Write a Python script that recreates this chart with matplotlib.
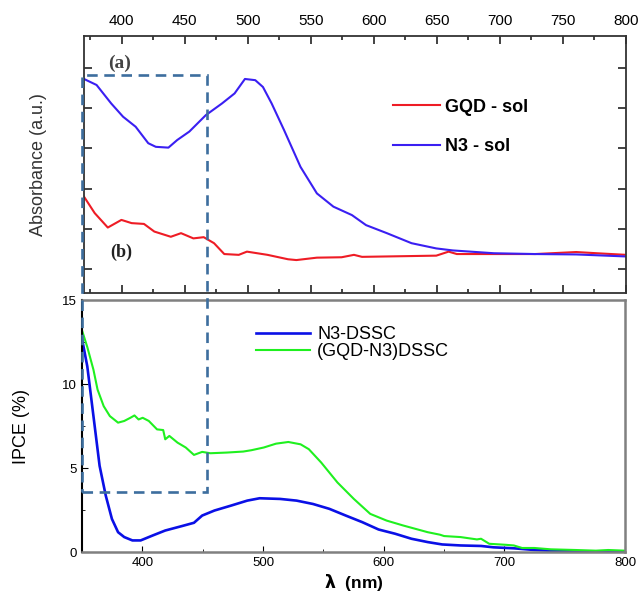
import matplotlib
matplotlib.use('Agg')
import matplotlib.pyplot as plt
from matplotlib.patches import Rectangle
from matplotlib.ticker import MultipleLocator

plt.rcParams['font.family'] = ['Liberation Sans', 'DejaVu Sans']

# (a) absorbance, arbitrary units
wl_n3_sol = [370, 380, 391.6, 401, 411, 421, 427, 437, 444, 453.6, 466.7, 479.5, 489.5,
             497.7, 505.9, 512, 518.9, 528.7, 541.8, 554.8, 567.9, 582.6, 593.8, 610.3,
             629.9, 649.5, 662.6, 695.2, 727.9, 760.5, 800]
abs_n3_sol = [0.573, 0.558, 0.512, 0.479, 0.454, 0.413, 0.404, 0.402, 0.421, 0.442, 0.483,
              0.512, 0.537, 0.573, 0.570, 0.553, 0.512, 0.446, 0.354, 0.288, 0.255, 0.234,
              0.209, 0.189, 0.164, 0.151, 0.146, 0.139, 0.137, 0.136, 0.131]

wl_gqd_sol = [370, 378.5, 388.9, 399.7, 407.8, 417.6, 425.8, 438.9, 447, 456.8, 465, 473.2,
              481.3, 492.8, 499.3, 515.6, 531.9, 538.5, 554.8, 574.4, 584.2, 590.6, 610.3,
              629.9, 649.5, 659.3, 665.8, 695.2, 727.9, 760.5, 776.9, 800]
abs_gqd_sol = [0.280, 0.239, 0.203, 0.222, 0.214, 0.212, 0.193, 0.180, 0.189, 0.176, 0.179,
               0.164, 0.137, 0.135, 0.143, 0.135, 0.124, 0.122, 0.128, 0.129, 0.135, 0.130,
               0.131, 0.132, 0.133, 0.143, 0.137, 0.137, 0.137, 0.142, 0.139, 0.135]

# (b) IPCE %
wl_n3_dssc = [350, 354.4, 359.5, 364.6, 369.7, 374.8, 379.9, 385, 391.8, 398.6, 408.8, 419,
              432.6, 442.8, 449.6, 459.8, 473.4, 487, 497.2, 514.2, 527.8, 541.4, 555, 568.6,
              582.2, 595.8, 609.4, 623, 636.6, 648.5, 663.8, 680.8, 691, 708, 725, 742, 759, 800]
ipce_n3_dssc = [12.7, 11.05, 8.09, 5.13, 3.36, 1.97, 1.18, 0.89, 0.69, 0.69, 0.99, 1.28,
                1.54, 1.74, 2.17, 2.47, 2.76, 3.06, 3.20, 3.16, 3.06, 2.86, 2.57, 2.17,
                1.78, 1.34, 1.09, 0.79, 0.59, 0.45, 0.39, 0.36, 0.28, 0.22, 0.12, 0.06, 0.04, 0.02]

wl_gqd_dssc = [350, 354.4, 359.5, 362.9, 368, 373.1, 379.9, 385, 390.1, 393.5, 396.9, 400.3,
               405.4, 412.2, 417.3, 419, 422.4, 429.2, 436, 442.8, 449.6, 456.4, 470, 483.6,
               490.4, 500.6, 510.8, 521, 531.2, 538, 548.2, 561.7, 575.3, 588.9, 602.5, 616.1,
               626.3, 636.5, 646.7, 650.1, 663.7, 677.3, 680.7, 687.5, 701.1, 707.9, 714.7,
               724.9, 738.5, 758.9, 775.9, 786.1, 800]
ipce_gqd_dssc = [13.2, 12.2, 10.85, 9.67, 8.68, 8.09, 7.70, 7.80, 7.99, 8.13, 7.89, 7.99,
                 7.80, 7.30, 7.26, 6.71, 6.91, 6.51, 6.22, 5.78, 5.96, 5.88, 5.92, 5.98,
                 6.06, 6.22, 6.45, 6.55, 6.41, 6.12, 5.33, 4.14, 3.16, 2.27, 1.87, 1.58,
                 1.38, 1.18, 1.03, 0.95, 0.89, 0.75, 0.79, 0.49, 0.43, 0.39, 0.24,
                 0.24, 0.16, 0.12, 0.08, 0.12, 0.08]

fig = plt.figure(figsize=(6.42, 5.96), dpi=100)

# top panel (a)
ax1 = fig.add_axes([0.1308, 0.5084, 0.8442, 0.4312])
ax1.plot(wl_gqd_sol, abs_gqd_sol, color='#ee1c25', lw=1.5, label='GQD - sol')
ax1.plot(wl_n3_sol, abs_n3_sol, color='#3a1ff2', lw=1.5, label='N3 - sol')
ax1.set_xlim(370, 800)
ax1.set_ylim(0.04, 0.68)
ax1.xaxis.set_major_locator(MultipleLocator(50))
ax1.xaxis.set_minor_locator(MultipleLocator(25))
ax1.yaxis.set_major_locator(MultipleLocator(0.1))
ax1.tick_params(axis='both', which='both', direction='in', top=True, bottom=True,
                left=True, right=True, labelbottom=False, labeltop=True, labelleft=False,
                color='#222222', width=1.2)
ax1.tick_params(which='major', length=6, labelsize=11, pad=6)
ax1.tick_params(which='minor', length=3)
for s in ax1.spines.values():
    s.set_linewidth(1.3)
    s.set_color('#333333')
ax1.set_ylabel('Absorbance (a.u.)', fontsize=13, color='#333333')
ax1.yaxis.set_label_coords(-0.068, 0.5)
leg1 = ax1.legend(loc='upper left', bbox_to_anchor=(0.54, 0.82), frameon=False,
                  prop={'weight': 'bold', 'size': 13}, handlelength=2.6,
                  handletextpad=0.3, labelspacing=1.25)
ax1.text(0.066, 0.895, '(a)', transform=ax1.transAxes, ha='center', va='center',
         family='Liberation Serif', fontweight='bold', fontsize=14, color='#444444')
ax1.text(0.068, 0.16, '(b)', transform=ax1.transAxes, ha='center', va='center',
         family='Liberation Serif', fontweight='bold', fontsize=13, color='#222222')

# bottom panel (b)
ax2 = fig.add_axes([0.1277, 0.0738, 0.8458, 0.4228])
ax2.plot(wl_n3_dssc, ipce_n3_dssc, color='#0a10e6', lw=1.9, label='N3-DSSC')
ax2.plot(wl_gqd_dssc, ipce_gqd_dssc, color='#1ff01f', lw=1.5, label='(GQD-N3)DSSC')
ax2.set_xlim(350, 800)
ax2.set_ylim(0, 15)
ax2.set_xticks([400, 500, 600, 700, 800])
ax2.xaxis.set_minor_locator(MultipleLocator(50))
ax2.yaxis.set_major_locator(MultipleLocator(5))
ax2.yaxis.set_minor_locator(MultipleLocator(2.5))
ax2.tick_params(axis='both', which='both', direction='in', labelsize=9.5)
ax2.tick_params(which='major', length=4)
ax2.tick_params(which='minor', length=2.5)
for name in ['top', 'right', 'bottom']:
    ax2.spines[name].set_color('#808080')
    ax2.spines[name].set_linewidth(1.8)
ax2.spines['left'].set_linewidth(1.5)
ax2.set_ylabel('IPCE (%)', fontsize=13)
ax2.yaxis.set_label_coords(-0.095, 0.5)
ax2.set_xlabel(r'$\mathbf{\lambda}$  (nm)', fontsize=12.5, fontweight='bold', labelpad=2)
ax2.legend(loc='upper left', bbox_to_anchor=(0.29, 0.96), frameon=False, fontsize=13,
           handlelength=3.0, handletextpad=0.4, labelspacing=0.0)

# dashed zoom box
fig.patches.append(Rectangle((0.1277, 0.1745), 0.1947, 0.6995, transform=fig.transFigure,
                             fill=False, ec='#3d6e9e', lw=1.9, ls=(0, (4, 2.5)), zorder=10))

fig.savefig('out.png', dpi=100)
